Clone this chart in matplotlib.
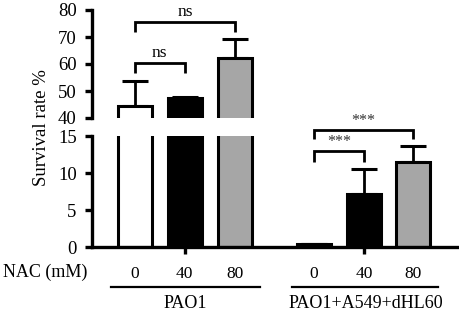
import matplotlib
matplotlib.use("Agg")
import matplotlib.pyplot as plt

plt.rcParams['font.family'] = ['Liberation Serif', 'DejaVu Serif']

# data
groups = ["PAO1", "PAO1+A549+dHL60"]
nac_labels = ["0", "40", "80"]
pao1_vals = [44.5, 47.5, 62.2]
pao1_err = [9.2, 0.4, 7.1]
mix_vals = [0.35, 7.2, 11.5]
mix_err = [0.05, 3.3, 2.2]
colors = ["white", "black", "#a6a6a6"]
positions1 = [0, 1, 2.02]
positions2 = [3.6, 4.6, 5.58]

W, H = 459, 313
fig = plt.figure(figsize=(W/100, H/100), dpi=100)

def fx(px):
    return px / W

def fy(py):
    return 1 - py / H

left, right = fx(92), fx(457)
ax_top = fig.add_axes([left, fy(118), right - left, (118 - 10) / H])
ax_bot = fig.add_axes([left, fy(247), right - left, (247 - 136) / H])

xlim = (-0.86, 6.47)
bw = 0.68
lw = 2.2

all_pos = positions1 + positions2
all_vals = pao1_vals + mix_vals
all_err = pao1_err + mix_err
all_cols = colors + colors

for ax in (ax_top, ax_bot):
    ax.bar(all_pos, all_vals, width=bw, color=all_cols, edgecolor="black", linewidth=lw, zorder=2)
    ax.errorbar(all_pos, all_vals, yerr=[[0]*6, all_err], fmt="none", ecolor="black",
                elinewidth=2, capsize=9.5, capthick=2.2, zorder=1)
    ax.set_xlim(*xlim)
    for s in ("top", "right"):
        ax.spines[s].set_visible(False)
    ax.spines["left"].set_linewidth(2.4)
    ax.tick_params(axis="y", width=2.4, length=5, labelsize=13.5, pad=6)

ax_top.set_ylim(40, 80)
ax_top.set_yticks([40, 50, 60, 70, 80])
ax_top.spines["bottom"].set_visible(False)
ax_top.set_xticks([])

ax_bot.set_ylim(0, 15)
ax_bot.set_yticks([0, 5, 10, 15])
ax_bot.spines["bottom"].set_linewidth(2.4)
ax_bot.set_xticks([positions1[1], positions2[1]])
ax_bot.set_xticklabels([])
ax_bot.tick_params(axis="x", width=2.4, length=5)

def bracket(ax, x1, x2, y, h, text, ty_off, fs, tcolor="black"):
    ax.plot([x1, x1, x2, x2], [y - h, y, y, y - h], color="black", lw=2, clip_on=False,
            solid_capstyle="butt", solid_joinstyle="miter")
    ax.text((x1 + x2) / 2, y + ty_off, text, ha="center", va="bottom", fontsize=fs,
            color=tcolor, clip_on=False)

bracket(ax_top, positions1[0], positions1[1], 60.4, 3.7, "ns", 0.8, 12.5)
bracket(ax_top, positions1[0], positions1[2], 75.5, 3.5, "ns", 0.8, 12.5)
bracket(ax_bot, positions2[0], positions2[1], 13.0, 1.5, "***", 0.1, 11.5, "#333333")
bracket(ax_bot, positions2[0], positions2[2], 15.8, 1.2, "***", 0.1, 11.5, "#333333")

# x labels
label_y = -(274 - 247) / 111
for p, t in zip(positions1 + positions2, nac_labels + nac_labels):
    ax_bot.text(p, label_y, t, ha="center", va="center", fontsize=12.5,
                transform=ax_bot.get_xaxis_transform(), clip_on=False)
fig.text(fx(3), fy(272), "NAC (mM)", ha="left", va="center", fontsize=13)

line_y = fy(287)
fig.add_artist(plt.Line2D([fx(111), fx(260)], [line_y, line_y], color="black", lw=1.6))
fig.add_artist(plt.Line2D([fx(292), fx(438)], [line_y, line_y], color="black", lw=1.6))
fig.text(fx(185), fy(303), groups[0], ha="center", va="center", fontsize=13)
fig.text(fx(366), fy(303), groups[1], ha="center", va="center", fontsize=13)

fig.text(fx(42), fy(128), "Survival rate %", rotation=90, ha="center", va="center", fontsize=13.5)

fig.savefig("out.png", dpi=100)
